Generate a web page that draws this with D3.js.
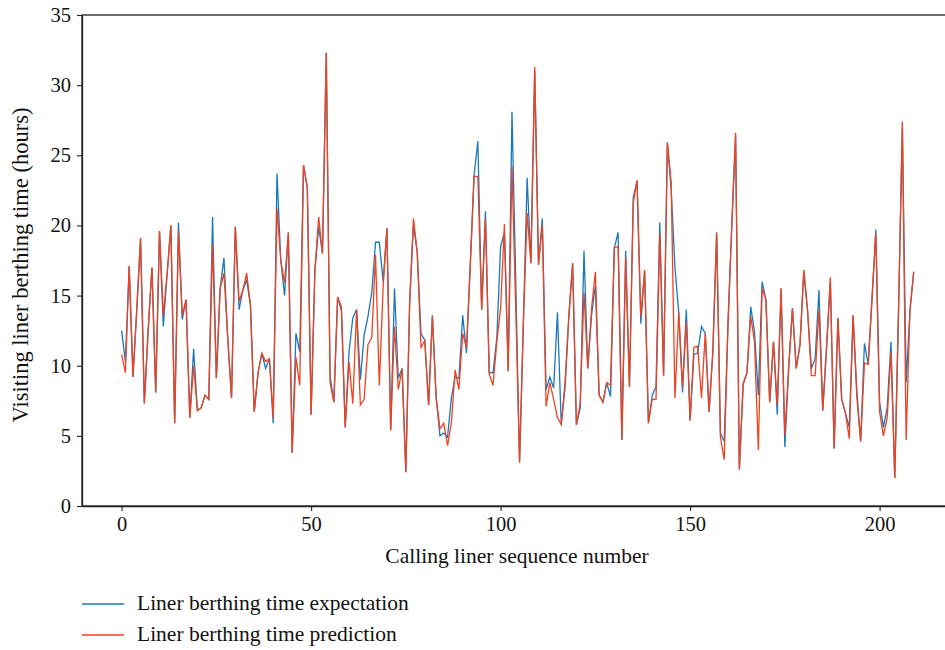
<!DOCTYPE html>
<html>
<head>
<meta charset="utf-8">
<script src="https://cdn.jsdelivr.net/npm/d3@7"></script>
<style>
  body { margin: 0; background: #fff; }
  svg { display: block; font-family: "Liberation Serif", "DejaVu Serif", serif; }
</style>
</head>
<body>
<div id="chart"></div>
<script>
// Liner berthing time (hours).
const expectation = [
  12.5, 10.3, 17.1, 9.2, 14.0, 19.1, 7.3, 12.5, 17.0, 8.1,
  19.6, 12.8, 16.5, 20.0, 5.9, 20.2, 13.3, 14.7, 6.3, 11.2,
  6.8, 7.0, 7.9, 7.6, 20.6, 9.1, 15.5, 17.7, 12.0, 7.7,
  19.9, 14.0, 15.4, 16.1, 14.3, 6.7, 9.5, 10.9, 9.8, 10.5,
  5.9, 23.7, 17.5, 15.0, 19.5, 3.8, 12.3, 11.0, 24.3, 22.7,
  6.5, 16.8, 19.9, 18.0, 32.3, 9.3, 7.4, 14.9, 13.9, 5.6,
  11.0, 13.4, 14.0, 9.0, 12.2, 13.5, 15.2, 18.8, 18.8, 16.0,
  19.8, 5.4, 15.5, 9.1, 9.8, 2.4, 14.5, 20.0, 18.1, 12.3,
  11.8, 7.2, 13.6, 7.7, 5.0, 5.2, 4.9, 7.7, 9.2, 9.1,
  13.6, 10.9, 17.2, 23.6, 26.0, 14.0, 21.0, 9.5, 9.5, 12.0,
  18.5, 19.5, 9.6, 28.1, 16.0, 3.1, 13.0, 23.4, 17.3, 31.0,
  17.2, 20.5, 8.3, 9.2, 8.4, 13.8, 5.8, 8.4, 13.5, 17.3,
  5.8, 7.0, 18.2, 9.8, 13.6, 15.7, 7.9, 7.4, 8.8, 7.8,
  18.4, 19.5, 4.7, 18.2, 8.5, 22.0, 23.2, 13.0, 16.8, 5.9,
  7.9, 8.5, 20.2, 9.3, 25.9, 22.6, 17.0, 13.8, 8.1, 14.0,
  6.1, 10.8, 10.9, 12.8, 12.3, 6.7, 11.0, 19.5, 5.2, 4.6,
  13.0, 20.0, 26.4, 2.6, 8.7, 9.5, 14.2, 12.4, 7.9, 16.0,
  14.7, 7.4, 11.7, 6.5, 15.5, 4.2, 9.8, 14.1, 9.8, 11.5,
  16.8, 13.9, 9.8, 10.5, 15.4, 6.8, 11.3, 16.0, 4.1, 13.4,
  7.6, 6.6, 5.6, 13.6, 8.2, 4.6, 11.6, 10.1, 14.8, 19.7,
  7.4, 5.6, 7.0, 11.7, 2.0, 14.0, 27.0, 8.8, 13.9, 16.7
];
const prediction = [
  10.8, 9.5, 17.1, 9.2, 14.0, 19.1, 7.3, 12.5, 17.0, 8.1,
  19.6, 13.6, 16.5, 20.0, 5.9, 19.6, 13.6, 14.7, 6.3, 10.0,
  6.8, 7.0, 7.9, 7.6, 18.7, 9.1, 15.5, 16.6, 12.0, 7.7,
  19.9, 14.6, 15.4, 16.6, 14.3, 6.7, 9.5, 10.9, 10.3, 10.5,
  6.3, 21.2, 17.5, 15.9, 19.5, 3.8, 10.6, 8.6, 24.3, 22.7,
  6.5, 16.8, 20.6, 18.0, 32.3, 8.8, 7.4, 14.9, 14.2, 5.6,
  10.3, 7.3, 14.0, 7.2, 7.6, 11.5, 12.0, 17.9, 8.6, 15.6,
  19.8, 5.4, 12.8, 8.3, 9.8, 2.4, 14.5, 20.5, 18.1, 11.3,
  11.8, 7.2, 13.5, 7.7, 5.5, 5.9, 4.3, 5.9, 9.7, 8.3,
  12.3, 11.3, 17.2, 23.5, 23.5, 14.0, 20.5, 9.4, 8.6, 11.7,
  14.1, 20.1, 9.6, 24.2, 14.0, 3.1, 13.0, 20.9, 17.3, 31.3,
  17.2, 20.0, 7.1, 8.8, 7.6, 6.3, 5.8, 8.8, 13.5, 17.3,
  5.8, 7.3, 15.2, 9.8, 14.1, 16.7, 7.9, 7.4, 8.8, 8.6,
  18.4, 18.5, 4.7, 17.7, 8.5, 21.6, 23.2, 13.5, 16.8, 5.9,
  7.6, 7.6, 19.4, 9.3, 25.9, 23.1, 7.7, 13.8, 8.5, 13.1,
  6.1, 11.3, 11.4, 7.7, 12.3, 6.7, 11.0, 19.5, 4.9, 3.3,
  13.0, 20.0, 26.6, 2.6, 8.7, 9.5, 13.5, 11.7, 4.0, 15.5,
  14.7, 7.4, 11.7, 7.2, 15.5, 5.1, 9.8, 14.1, 9.8, 11.5,
  16.8, 13.9, 9.3, 9.3, 14.0, 6.8, 11.3, 16.3, 4.1, 13.4,
  7.6, 6.6, 4.8, 13.6, 7.7, 4.6, 10.2, 10.1, 14.8, 19.4,
  6.7, 5.0, 6.3, 11.0, 2.0, 14.0, 27.4, 4.7, 13.9, 16.7
];
const xTicks = [0, 50, 100, 150, 200];
const yTicks = [0, 5, 10, 15, 20, 25, 30, 35];
const seriesNames = ["Liner berthing time expectation", "Liner berthing time prediction"];
const seriesColors = ["#1a78bd", "#f0421f"];

const W = 945, H = 650;
const plot = { left: 82, top: 15, bottom: 506 };
const pxPerUnit = 3.79;   // x-scale measured from tick spacing in the figure

const svg = d3.select("#chart").append("svg")
    .attr("width", W).attr("height", H)
    .attr("viewBox", `0 0 ${W} ${H}`);

const xMin = -10.45, xMax = 219.45;
const x = d3.scaleLinear().domain([xMin, xMax])
    .range([plot.left, plot.left + (xMax - xMin) * pxPerUnit]);
const y = d3.scaleLinear().domain([0, 35]).range([plot.bottom, plot.top]);
const right = x(xMax);

// frame
svg.append("rect")
    .attr("x", plot.left).attr("y", plot.top)
    .attr("width", right - plot.left).attr("height", plot.bottom - plot.top)
    .attr("fill", "none").attr("stroke", "#222").attr("stroke-width", 1.3);

const xAxis = svg.append("g")
    .attr("transform", `translate(0, ${plot.bottom})`)
    .call(d3.axisBottom(x).tickValues(xTicks).tickSize(5).tickPadding(5).tickSizeOuter(0));
const yAxis = svg.append("g")
    .attr("transform", `translate(${plot.left}, 0)`)
    .call(d3.axisLeft(y).tickValues(yTicks).tickSize(5).tickPadding(6).tickSizeOuter(0));
[xAxis, yAxis].forEach(g => {
    g.select(".domain").attr("stroke", "#222").attr("stroke-width", 1.3);
    g.selectAll(".tick line").attr("stroke", "#222").attr("stroke-width", 1.1);
    g.selectAll(".tick text")
        .attr("fill", "#111")
        .style("font-family", "Liberation Serif, DejaVu Serif, serif")
        .style("font-size", "20.5px");
});

// series
const line = d3.line().x((d, i) => x(i)).y(d => y(d));
[expectation, prediction].forEach((vals, k) => {
    svg.append("path")
        .datum(vals)
        .attr("d", line)
        .attr("fill", "none")
        .attr("stroke", seriesColors[k])
        .attr("stroke-width", 1.3)
        .attr("stroke-linejoin", "miter");
});

// axis titles
svg.append("text")
    .attr("x", 517).attr("y", 563)
    .attr("text-anchor", "middle")
    .attr("fill", "#111")
    .style("font-size", "21.5px")
    .text("Calling liner sequence number");
svg.append("text")
    .attr("transform", `translate(28, 265) rotate(-90)`)
    .attr("text-anchor", "middle")
    .attr("fill", "#111")
    .style("font-size", "22.5px")
    .text("Visiting liner berthing time (hours)");

// legend
const leg = svg.append("g");
seriesNames.forEach((name, k) => {
    const ly = 604 + k * 31;
    leg.append("line")
        .attr("x1", 82).attr("x2", 124).attr("y1", ly).attr("y2", ly)
        .attr("stroke", seriesColors[k]).attr("stroke-width", 1.3);
    leg.append("text")
        .attr("x", 137).attr("y", ly + 6)
        .attr("fill", "#111")
        .style("font-size", "21.5px")
        .text(name);
});
</script>
</body>
</html>
